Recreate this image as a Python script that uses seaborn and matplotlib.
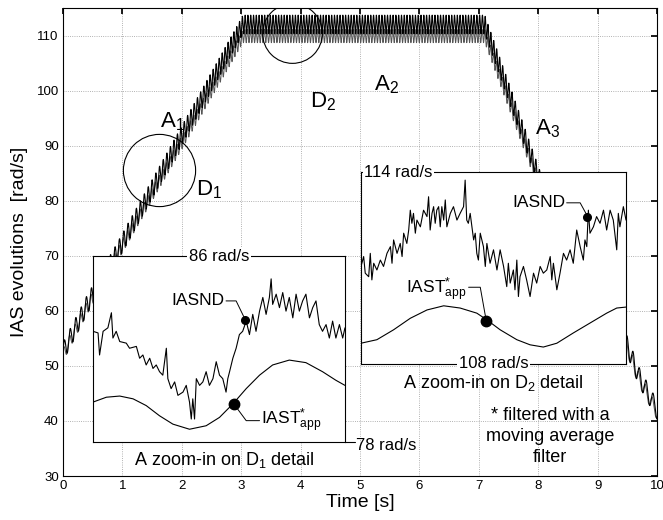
import numpy as np
import pandas as pd
import matplotlib
matplotlib.use('Agg')
import matplotlib.pyplot as plt
import seaborn as sns

# %%
# Main run-up / plateau / run-down profile
speed_t = [0.0, 0.4, 0.88, 3.03, 7.1, 8.25, 9.45, 9.7, 10.0]
iasnd_profile = [52.5, 61.0, 70.0, 112.0, 112.0, 77.0, 55.0, 48.0, 42.0]
iast_profile = [52.0, 60.5, 69.5, 109.9, 109.9, 76.0, 54.5, 47.5, 41.5]
ripple_amp_nd = 1.7
ripple_amp_st = 1.2
ripple_hz_per_rad = 0.19

# D1 detail (window position 0..1, rad/s)
d1_pos = [0.0, 0.020, 0.026, 0.040, 0.059, 0.073, 0.079, 0.092, 0.106, 0.132, 0.145, 0.172,
          0.185, 0.198, 0.211, 0.225, 0.238, 0.251, 0.264, 0.277, 0.291, 0.297, 0.310, 0.324,
          0.337, 0.357, 0.370, 0.383, 0.390, 0.396, 0.403, 0.410, 0.423, 0.436, 0.449, 0.462,
          0.476, 0.489, 0.502, 0.515, 0.528, 0.535, 0.542, 0.555, 0.568, 0.581, 0.594, 0.608,
          0.621, 0.634, 0.647, 0.661, 0.674, 0.687, 0.700, 0.707, 0.713, 0.727, 0.740, 0.753,
          0.766, 0.779, 0.793, 0.806, 0.819, 0.832, 0.845, 0.859, 0.872, 0.885, 0.898, 0.911,
          0.925, 0.938, 0.951, 0.964, 0.978, 0.991, 1.0]
d1_iasnd = [82.77, 82.70, 81.75, 82.77, 82.92, 83.57, 82.48, 82.77, 82.33, 82.26, 82.04, 82.12,
            81.61, 81.75, 81.32, 81.61, 81.17, 81.32, 81.03, 80.88, 82.04, 80.73, 80.30, 80.59,
            80.01, 80.15, 80.44, 79.72, 78.99, 79.86, 78.99, 80.73, 80.44, 80.59, 81.03, 80.44,
            80.73, 81.46, 80.88, 80.73, 80.15, 80.73, 81.03, 81.61, 82.04, 82.63, 82.77, 83.21,
            82.63, 83.50, 82.77, 83.64, 84.23, 83.50, 84.23, 85.03, 83.93, 84.37, 83.79, 84.44,
            83.64, 84.23, 83.35, 84.37, 83.64, 84.08, 84.37, 83.35, 83.79, 84.08, 83.06, 82.77,
            83.06, 82.48, 83.21, 82.48, 83.06, 82.48, 82.92]
d1_app_pos = [0.0, 0.053, 0.106, 0.159, 0.211, 0.264, 0.317, 0.383, 0.449, 0.502, 0.555,
              0.608, 0.661, 0.713, 0.779, 0.845, 0.911, 0.964, 1.0]
d1_iast = [79.72, 79.93, 79.98, 79.86, 79.57, 79.13, 78.77, 78.55, 78.70, 79.06, 79.64,
           80.30, 80.88, 81.32, 81.53, 81.42, 81.03, 80.66, 80.44]

# D2 detail
d2_pos = [0.0, 0.010, 0.016, 0.029, 0.035, 0.041, 0.048, 0.060, 0.073, 0.085, 0.098, 0.111,
          0.117, 0.123, 0.136, 0.148, 0.155, 0.161, 0.173, 0.180, 0.186, 0.192, 0.198, 0.205,
          0.211, 0.224, 0.236, 0.249, 0.255, 0.261, 0.268, 0.274, 0.280, 0.286, 0.293, 0.299,
          0.305, 0.312, 0.318, 0.324, 0.337, 0.349, 0.362, 0.374, 0.387, 0.393, 0.399, 0.405,
          0.412, 0.425, 0.431, 0.437, 0.443, 0.450, 0.462, 0.469, 0.475, 0.487, 0.500, 0.513,
          0.525, 0.538, 0.550, 0.556, 0.563, 0.575, 0.581, 0.588, 0.594, 0.600, 0.613, 0.625,
          0.638, 0.651, 0.663, 0.676, 0.688, 0.701, 0.714, 0.720, 0.726, 0.739, 0.751, 0.764,
          0.776, 0.789, 0.801, 0.814, 0.827, 0.839, 0.845, 0.852, 0.858, 0.864, 0.877, 0.889,
          0.902, 0.915, 0.927, 0.940, 0.952, 0.965, 0.971, 0.977, 0.990, 1.0]
d2_iasnd = [111.05, 111.36, 110.84, 110.73, 111.46, 110.63, 111.15, 110.94, 111.25, 111.05,
            111.46, 111.67, 111.15, 111.88, 111.46, 111.77, 111.36, 112.09, 111.77, 112.19,
            112.81, 112.40, 112.71, 112.09, 112.50, 112.29, 112.81, 112.61, 113.23, 112.19,
            112.71, 112.92, 112.40, 112.81, 112.92, 112.29, 112.92, 112.50, 113.13, 112.29,
            112.71, 112.92, 112.50, 112.71, 112.92, 113.75, 112.50, 112.40, 112.71, 111.88,
            112.09, 111.46, 111.25, 112.09, 111.67, 111.05, 111.77, 111.15, 111.57, 110.94,
            111.57, 111.05, 110.42, 111.15, 110.53, 110.94, 110.32, 111.25, 110.11, 110.73,
            111.05, 110.63, 110.11, 110.84, 110.53, 111.05, 110.84, 110.94, 111.36, 110.63,
            111.15, 110.32, 110.84, 111.46, 111.25, 111.57, 111.15, 112.19, 111.67, 111.25,
            111.88, 111.67, 112.81, 112.09, 112.29, 112.61, 112.40, 112.81, 112.19, 112.81,
            112.50, 111.57, 112.71, 112.29, 112.92, 112.50]
d2_app_pos = [0.0, 0.060, 0.123, 0.186, 0.249, 0.312, 0.374, 0.437, 0.475, 0.525, 0.588,
              0.638, 0.688, 0.739, 0.801, 0.864, 0.927, 0.965, 1.0]
d2_iast = [108.65, 108.76, 109.07, 109.43, 109.69, 109.82, 109.75, 109.59, 109.38, 109.07,
           108.76, 108.60, 108.53, 108.65, 108.97, 109.28, 109.59, 109.75, 109.78]

# %%
sns.set_theme(style='white')
plt.rcParams['font.family'] = ['Liberation Sans', 'DejaVu Sans']
plt.rcParams['mathtext.fontset'] = 'custom'
plt.rcParams['mathtext.rm'] = 'Liberation Sans'
plt.rcParams['mathtext.it'] = 'Liberation Sans:italic'
for key in ['text.color', 'axes.labelcolor', 'xtick.color', 'ytick.color', 'axes.edgecolor']:
    plt.rcParams[key] = 'black'

# Build the dense run traces
t = np.linspace(0, 10, 8000)
dt = t[1] - t[0]
base_nd = np.interp(t, speed_t, iasnd_profile)
base_st = np.interp(t, speed_t, iast_profile)
phase = 2 * np.pi * np.cumsum(ripple_hz_per_rad * base_nd) * dt
main_df = pd.DataFrame({
    'time': t,
    'IASND': base_nd + ripple_amp_nd * np.sin(phase),
    'IAST': base_st + ripple_amp_st * np.sin(phase + 0.7),
})

fig = plt.figure(figsize=(6.63, 5.2), dpi=100)
ax = fig.add_axes([0.095, 0.0846, 0.896, 0.9])

sns.lineplot(data=main_df, x='time', y='IAST', ax=ax, color='#555555', lw=0.7,
             estimator=None, sort=False)
sns.lineplot(data=main_df, x='time', y='IASND', ax=ax, color='black', lw=0.8,
             estimator=None, sort=False)

ax.set_xlim(0, 10)
ax.set_ylim(30, 115)
ax.set_xticks(range(0, 11))
ax.set_yticks(range(30, 111, 10))
ax.grid(True, ls=':', lw=0.6, color='#999999')
ax.tick_params(direction='in', top=True, right=True, length=4, labelsize=9.5, pad=3)
for s in ax.spines.values():
    s.set_linewidth(0.8)
ax.set_xlabel('Time [s]', fontsize=14, labelpad=1)
ax.set_ylabel('IAS evolutions  [rad/s]', fontsize=14, labelpad=6)

# detail circles and labels
ax.plot([1.62], [85.5], 'o', ms=52, mfc='none', mec='black', mew=0.8)
ax.plot([3.855], [110.5], 'o', ms=43, mfc='none', mec='black', mew=0.8)
lab_kw = dict(fontsize=16, ha='center', va='center')
ax.text(1.85, 94.3, r'A$_{\mathrm{1}}$', **lab_kw)
ax.text(2.45, 82.0, r'D$_{\mathrm{1}}$', **lab_kw)
ax.text(5.45, 101.0, r'A$_{\mathrm{2}}$', **lab_kw)
ax.text(4.37, 98.0, r'D$_{\mathrm{2}}$', **lab_kw)
ax.text(8.15, 93.0, r'A$_{\mathrm{3}}$', **lab_kw)

# %%
# Inset D1
in1 = fig.add_axes([0.1403, 0.1500, 0.380, 0.357])
in1.set_facecolor('white')
sns.lineplot(x=d1_pos, y=d1_iasnd, ax=in1, color='black', lw=0.8, estimator=None, sort=False)
sns.lineplot(x=d1_app_pos, y=d1_iast, ax=in1, color='black', lw=0.8, estimator=None, sort=False)
in1.set_xlim(0, 1)
in1.set_ylim(78, 86)
in1.set_xticks([])
in1.set_yticks([])
in1.set_xlabel('')
in1.set_ylabel('')
for s in in1.spines.values():
    s.set_linewidth(0.8)
in1.plot([0.605], [83.24], 'o', color='black', ms=5.5)
in1.plot([0.559], [79.64], 'o', color='black', ms=7.5)
in1.plot([0.528, 0.568, 0.602], [84.08, 84.08, 83.32], color='black', lw=0.7)
in1.plot([0.559, 0.608, 0.661], [79.64, 78.92, 78.92], color='black', lw=0.7)
in1.text(0.522, 84.08, 'IASND', ha='right', va='center', fontsize=12.5)
in1.text(0.667, 78.92, r'IAST$^{*}_{\mathrm{app}}$', ha='left', va='center', fontsize=12.5)
in1.text(0.5, 1.0, '86 rad/s', transform=in1.transAxes, ha='center', va='center',
         fontsize=12, bbox=dict(fc='white', ec='none', pad=1.5))
in1.plot([1.0, 1.04], [0, 0], transform=in1.transAxes, color='black', lw=0.8, clip_on=False)
in1.text(1.045, -0.02, '78 rad/s', transform=in1.transAxes, ha='left', va='center', fontsize=12)
in1.text(0.52, -0.095, r'A zoom-in on D$_{\mathrm{1}}$ detail', transform=in1.transAxes,
         ha='center', va='center', fontsize=13)

# Inset D2
in2 = fig.add_axes([0.5445, 0.300, 0.3997, 0.369])
in2.set_facecolor('white')
sns.lineplot(x=d2_pos, y=d2_iasnd, ax=in2, color='black', lw=0.8, estimator=None, sort=False)
sns.lineplot(x=d2_app_pos, y=d2_iast, ax=in2, color='black', lw=0.8, estimator=None, sort=False)
in2.set_xlim(0, 1)
in2.set_ylim(108, 114)
in2.set_xticks([])
in2.set_yticks([])
in2.set_xlabel('')
in2.set_ylabel('')
for s in in2.spines.values():
    s.set_linewidth(0.8)
in2.plot([0.854], [112.61], 'o', color='black', ms=5.5)
in2.plot([0.472], [109.36], 'o', color='black', ms=7.5)
in2.plot([0.776, 0.827, 0.854], [113.04, 113.04, 112.63], color='black', lw=0.7)
in2.plot([0.406, 0.450, 0.472], [110.40, 110.40, 109.38], color='black', lw=0.7)
in2.text(0.770, 113.04, 'IASND', ha='right', va='center', fontsize=12.5)
in2.text(0.400, 110.32, r'IAST$^{*}_{\mathrm{app}}$', ha='right', va='center', fontsize=12.5)
in2.text(0.012, 1.0, '114 rad/s', transform=in2.transAxes, ha='left', va='center',
         fontsize=12, bbox=dict(fc='white', ec='none', pad=1.0))
in2.text(0.5, 0.0, '108 rad/s', transform=in2.transAxes, ha='center', va='center',
         fontsize=12, bbox=dict(fc='white', ec='none', pad=1.5))
in2.text(0.5, -0.10, r'A zoom-in on D$_{\mathrm{2}}$ detail', transform=in2.transAxes,
         ha='center', va='center', fontsize=13)

fig.text(0.83, 0.16, '* filtered with a\nmoving average\nfilter', ha='center', va='center',
         fontsize=13, linespacing=1.3)

fig.savefig('out.png', dpi=100)
